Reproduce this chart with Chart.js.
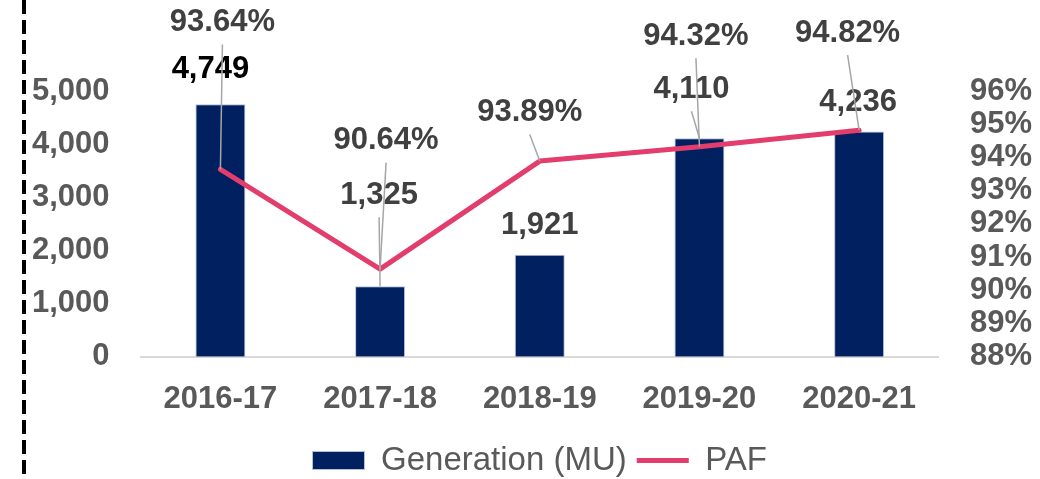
<!DOCTYPE html>
<html>
<head>
<meta charset="utf-8">
<script src="https://cdn.jsdelivr.net/npm/chart.js@4/dist/chart.umd.min.js"></script>
<style>
    html, body { margin: 0; padding: 0; background: #fff; }
    #myChart { display: block; }
</style>
</head>
<body>
<canvas id="myChart" width="1040" height="479"></canvas>
<script>
'use strict';

// chart data
const years = ['2016-17', '2017-18', '2018-19', '2019-20', '2020-21'];
const generation = [4749, 1325, 1921, 4110, 4236];
const paf = [93.64, 90.64, 93.89, 94.32, 94.82];

// where Excel put the data labels, relative to the bar top / line point
const barLabelShift = [[-10, -35], [-1, -91], [0, -29], [-8, -49], [-1, -29.5]];
const pafLabelShift = [[2, -147], [6, -128.5], [-10, -48.5], [-3.5, -110.5], [-11.5, -97]];

const fontName = '"Liberation Sans", Arial, sans-serif';
const navy = '#002060';
const pink = '#E33D6E';

let labelsPlugin = {
    id: 'excelLabels',

    drawLabel(ctx, text, x, y, color, shift) {
        let lx = x + shift[0];
        let ly = y + shift[1];

        // leader line when label sits far from its mark
        if (Math.abs(shift[1]) > 40) {
            ctx.save();
            ctx.strokeStyle = '#a6a6a6';
            ctx.lineWidth = 1.5;
            ctx.beginPath();
            ctx.moveTo(x, y);
            ctx.lineTo(lx, ly + 22);
            ctx.stroke();
            ctx.restore();
        }

        ctx.fillStyle = color;
        ctx.fillText(text, lx, ly);
    },

    afterDatasetsDraw(chart) {
        let ctx = chart.ctx;
        let barMeta = chart.getDatasetMeta(0);
        let lineMeta = chart.getDatasetMeta(1);

        ctx.save();
        ctx.font = 'bold 31px ' + fontName;
        ctx.textAlign = 'center';
        ctx.textBaseline = 'middle';

        barMeta.data.forEach((bar, i) => {
            let text = generation[i].toLocaleString('en-US');
            let color = i === 0 ? '#000000' : '#404040';
            this.drawLabel(ctx, text, bar.x, bar.y, color, barLabelShift[i]);
        });

        lineMeta.data.forEach((pt, i) => {
            let text = paf[i].toFixed(2) + '%';
            this.drawLabel(ctx, text, pt.x, pt.y, '#404040', pafLabelShift[i]);
        });

        ctx.restore();
    },

    afterDraw(chart) {
        // dashed border on the left of the slide
        let ctx = chart.ctx;
        ctx.save();
        ctx.strokeStyle = '#000';
        ctx.lineWidth = 4;
        ctx.setLineDash([14, 6]);
        ctx.beginPath();
        ctx.moveTo(24, 0);
        ctx.lineTo(24, chart.height);
        ctx.stroke();
        ctx.restore();
    }
};

let tickFont = { family: fontName, size: 31, weight: 'bold' };

let chartInstance = new Chart(document.getElementById('myChart'), {
    type: 'bar',
    data: {
        labels: years,
        datasets: [
            {
                label: 'Generation (MU)',
                data: generation,
                backgroundColor: navy,
                borderColor: '#b4c0d6',
                borderWidth: 1,
                categoryPercentage: 1,
                barPercentage: 0.313,
                pointStyle: 'rect',
                yAxisID: 'y',
                order: 1
            },
            {
                type: 'line',
                label: 'PAF',
                data: paf,
                borderColor: pink,
                backgroundColor: pink,
                borderWidth: 5,
                borderCapStyle: 'round',
                borderJoinStyle: 'round',
                pointRadius: 0,
                pointStyle: 'line',
                tension: 0,
                yAxisID: 'y1',
                order: 0
            }
        ]
    },
    options: {
        responsive: false,
        animation: false,
        devicePixelRatio: 1,
        layout: {
            padding: { left: 1, right: -23, top: 91, bottom: -8 }
        },
        plugins: {
            tooltip: { enabled: false },
            legend: {
                position: 'bottom',
                fullSize: false,
                labels: {
                    usePointStyle: true,
                    pointStyleWidth: 52,
                    boxHeight: 18,
                    padding: 10,
                    color: '#595959',
                    font: { family: fontName, size: 33 },
                    sort: (a, b) => a.datasetIndex - b.datasetIndex
                }
            }
        },
        scales: {
            x: {
                grid: { display: false, drawTicks: false },
                border: { display: true, color: '#d9d9d9', width: 2 },
                ticks: { color: '#595959', font: tickFont, padding: 24 },
                afterFit(scale) {
                    scale.height -= 8;
                }
            },
            y: {
                position: 'left',
                min: 0,
                max: 5000,
                grid: { display: false, drawTicks: false },
                border: { display: false },
                ticks: {
                    stepSize: 1000,
                    padding: 31,
                    autoSkip: false,
                    color: '#595959',
                    font: tickFont,
                    callback: (value) => value.toLocaleString('en-US')
                }
            },
            y1: {
                position: 'right',
                min: 88,
                max: 96,
                grid: { display: false, drawTicks: false },
                border: { display: false },
                ticks: {
                    stepSize: 1,
                    padding: 31,
                    autoSkip: false,
                    color: '#595959',
                    font: tickFont,
                    callback: (value) => value + '%'
                }
            }
        }
    },
    plugins: [labelsPlugin]
});
</script>
</body>
</html>
